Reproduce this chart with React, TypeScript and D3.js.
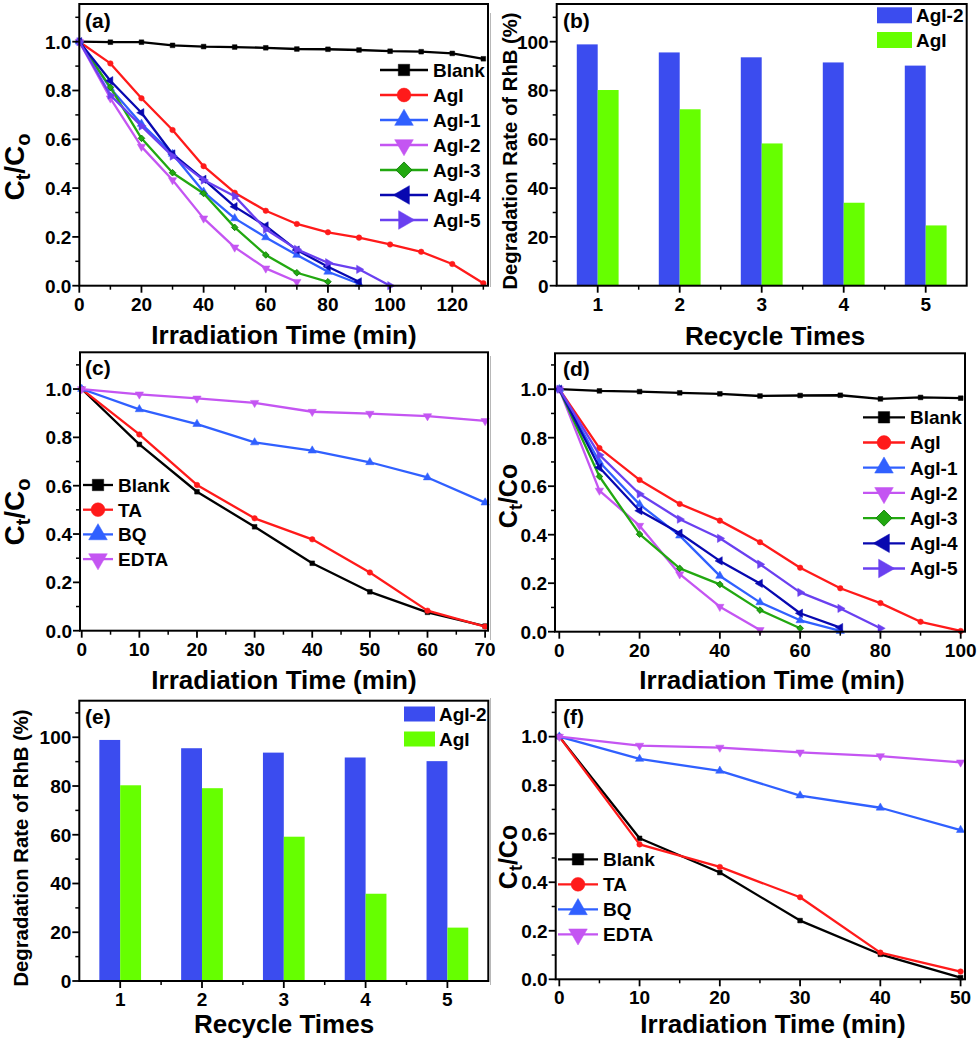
import React from "react";
import * as d3 from "d3";

const FONT = "'Liberation Sans', Arial, Helvetica, sans-serif";

// ---------- Panel (a) ----------
const timeA = [0, 10, 20, 30, 40, 50, 60, 70, 80, 90, 100, 110, 120, 130];
const aBlank = [1.0, 0.998, 0.998, 0.985, 0.98, 0.978, 0.975, 0.97, 0.969, 0.966, 0.961, 0.959, 0.952, 0.93];
const aAgI = [1.0, 0.911, 0.768, 0.638, 0.49, 0.381, 0.307, 0.253, 0.219, 0.197, 0.169, 0.139, 0.089, 0.01];
const aAgI1 = [1.0, 0.809, 0.663, 0.54, 0.385, 0.276, 0.198, 0.126, 0.057, 0.008];
const aAgI2 = [1.0, 0.768, 0.57, 0.433, 0.276, 0.157, 0.071, 0.016];
const aAgI3 = [1.0, 0.813, 0.604, 0.463, 0.378, 0.239, 0.126, 0.053, 0.016];
const aAgI4 = [1.0, 0.84, 0.709, 0.54, 0.436, 0.324, 0.245, 0.146, 0.078, 0.016];
const aAgI5 = [1.0, 0.781, 0.654, 0.531, 0.433, 0.367, 0.231, 0.149, 0.094, 0.067, 0.0];

// ---------- Panel (b) ----------
const recycle = [1, 2, 3, 4, 5];
const bAgI2 = [98.9, 95.6, 93.6, 91.5, 90.2];
const bAgI = [80.2, 72.3, 58.3, 34.0, 24.7];

// ---------- Panel (c) ----------
const timeC = [0, 10, 20, 30, 40, 50, 60, 70];
const cBlank = [1.0, 0.771, 0.575, 0.43, 0.279, 0.161, 0.076, 0.019];
const cTA = [1.0, 0.812, 0.603, 0.465, 0.378, 0.241, 0.083, 0.017];
const cBQ = [1.0, 0.916, 0.855, 0.779, 0.745, 0.697, 0.634, 0.53];
const cEDTA = [1.0, 0.978, 0.961, 0.943, 0.906, 0.898, 0.888, 0.868];

// ---------- Panel (d) ----------
const timeD = [0, 10, 20, 30, 40, 50, 60, 70, 80, 90, 100];
const dBlank = [1.0, 0.993, 0.99, 0.985, 0.981, 0.972, 0.974, 0.975, 0.96, 0.966, 0.963];
const dAgI = [1.0, 0.757, 0.626, 0.527, 0.458, 0.369, 0.264, 0.179, 0.118, 0.041, 0.003];
const dAgI1 = [1.0, 0.7, 0.525, 0.396, 0.23, 0.121, 0.047, 0.003];
const dAgI2 = [1.0, 0.582, 0.437, 0.237, 0.103, 0.007];
const dAgI3 = [1.0, 0.64, 0.402, 0.261, 0.195, 0.089, 0.014];
const dAgI4 = [1.0, 0.677, 0.499, 0.406, 0.292, 0.199, 0.076, 0.017];
const dAgI5 = [1.0, 0.729, 0.568, 0.464, 0.385, 0.278, 0.162, 0.096, 0.014];

// ---------- Panel (e) ----------
const eAgI2 = [98.9, 95.5, 93.7, 91.7, 90.2];
const eAgI = [80.3, 79.1, 59.2, 35.8, 21.9];

// ---------- Panel (f) ----------
const timeF = [0, 10, 20, 30, 40, 50];
const fBlank = [1.0, 0.581, 0.44, 0.242, 0.103, 0.007];
const fTA = [1.0, 0.556, 0.463, 0.338, 0.11, 0.032];
const fBQ = [1.0, 0.908, 0.859, 0.757, 0.707, 0.615];
const fEDTA = [1.0, 0.963, 0.955, 0.935, 0.92, 0.894];

const sampleNames = ["Blank", "AgI", "AgI-1", "AgI-2", "AgI-3", "AgI-4", "AgI-5"];
const scavNames = ["Blank", "TA", "BQ", "EDTA"];
const barNames = ["AgI-2", "AgI"];

const C = {
  black: "#000000",
  red: "#ff1a1a",
  blue: "#3060ff",
  violet: "#c455f2",
  green: "#22a810",
  navy: "#0808b0",
  purple: "#6a40f0",
  barBlue: "#3b4cef",
  barGreen: "#66ff00",
};

const sampleStyles = [
  { color: C.black, shape: "square" },
  { color: C.red, shape: "circle" },
  { color: C.blue, shape: "up" },
  { color: C.violet, shape: "down" },
  { color: C.green, shape: "diamond" },
  { color: C.navy, shape: "left" },
  { color: C.purple, shape: "right" },
];
const scavStyles = [
  { color: C.black, shape: "square" },
  { color: C.red, shape: "circle" },
  { color: C.blue, shape: "up" },
  { color: C.violet, shape: "down" },
];

function symbolPath(shape: string, size: number): string {
  let t: any = d3.symbolTriangle;
  if (shape === "square" || shape === "diamond") t = d3.symbolSquare;
  else if (shape === "circle") t = d3.symbolCircle;
  return d3.symbol().type(t).size(size)() as string;
}
const rotOf: Record<string, number> = { square: 0, circle: 0, up: 0, down: 180, left: -90, right: 90, diamond: 45 };

function Marker({ x, y, shape, color, size }: any) {
  return (
    <path
      d={symbolPath(shape, size)}
      transform={`translate(${x},${y}) rotate(${rotOf[shape]})`}
      fill={color}
      stroke={shape === "diamond" ? "#0d7a06" : color}
      strokeWidth={shape === "diamond" ? 0.8 : 0.5}
    />
  );
}

function range(a: number, b: number, s: number) {
  return d3.range(a, b + s / 2, s);
}

function Axes({ x, y, box, xMajor, xMinor, yMajor, yMinor, xFmt, yFmt }: any) {
  const { l, r, t, b } = box;
  return (
    <g fontFamily={FONT} fontWeight="bold" fontSize={19}>
      {yMajor.map((v: number) => (
        <g key={"ym" + v}>
          <line x1={l - 7} x2={l} y1={y(v)} y2={y(v)} stroke="#000" strokeWidth={1.8} />
          <text x={l - 8} y={y(v)} dy="0.36em" textAnchor="end">
            {yFmt(v)}
          </text>
        </g>
      ))}
      {yMinor.map((v: number) => (
        <line key={"yn" + v} x1={l - 4} x2={l} y1={y(v)} y2={y(v)} stroke="#000" strokeWidth={1.5} />
      ))}
      {xMajor.map((v: number) => (
        <g key={"xm" + v}>
          <line x1={x(v)} x2={x(v)} y1={b} y2={b + 7} stroke="#000" strokeWidth={1.8} />
          <text x={x(v)} y={b + 25} textAnchor="middle">
            {xFmt(v)}
          </text>
        </g>
      ))}
      {xMinor.map((v: number) => (
        <line key={"xn" + v} x1={x(v)} x2={x(v)} y1={b} y2={b + 4} stroke="#000" strokeWidth={1.5} />
      ))}
      <rect x={l} y={t} width={r - l} height={b - t} fill="none" stroke="#000" strokeWidth={2} />
    </g>
  );
}

function CtCo({ x, y, size, bothSub }: any) {
  const sub = Math.round(size * 0.72);
  const sh = Math.round(size * 0.2);
  return (
    <text
      transform={`translate(${x},${y}) rotate(-90)`}
      textAnchor="middle"
      fontFamily={FONT}
      fontWeight="bold"
      fontSize={size}
    >
      C
      <tspan fontSize={sub} dy={sh}>
        t
      </tspan>
      <tspan dy={-sh}>/C</tspan>
      {bothSub ? (
        <tspan fontSize={sub} dy={sh}>
          o
        </tspan>
      ) : (
        <tspan>o</tspan>
      )}
    </text>
  );
}

function LinePanel({ cfg }: any) {
  const { box, xDom, yDom } = cfg;
  const x = d3.scaleLinear().domain(xDom).range([box.l, box.r]);
  const y = d3.scaleLinear().domain(yDom).range([box.b, box.t]);
  const line = d3
    .line<[number, number]>()
    .x((d) => x(d[0]))
    .y((d) => y(d[1]));
  const lg = cfg.legend;
  return (
    <g>
      {cfg.series.map((s: any, i: number) => {
        const pts: [number, number][] = s.ys.map((v: number, j: number) => [s.xs[j], v]);
        return (
          <g key={"s" + i}>
            <path d={line(pts) as string} fill="none" stroke={s.color} strokeWidth={2.3} strokeLinejoin="round" />
            {pts.map((p, j) => (
              <Marker key={j} x={x(p[0])} y={y(p[1])} shape={s.shape} color={s.color} size={s.shape === "circle" ? 24 : s.shape === "square" || s.shape === "diamond" ? 22 : 30} />
            ))}
          </g>
        );
      })}
      <Axes
        x={x}
        y={y}
        box={box}
        xMajor={cfg.xMajor}
        xMinor={cfg.xMinor}
        yMajor={cfg.yMajor}
        yMinor={cfg.yMinor}
        xFmt={(v: number) => d3.format("d")(v)}
        yFmt={(v: number) => d3.format(".1f")(v)}
      />
      <g fontFamily={FONT} fontWeight="bold" fontSize={19}>
        {cfg.series.map((s: any, i: number) => {
          const yy = lg.y0 + lg.dy * i;
          return (
            <g key={"l" + i}>
              <line x1={lg.x0} x2={lg.x1} y1={yy} y2={yy} stroke={s.color} strokeWidth={2.3} />
              <Marker x={lg.mx} y={yy} shape={s.shape} color={s.color} size={s.shape === "circle" ? 150 : s.shape === "square" || s.shape === "diamond" ? 130 : 150} />
              <text x={lg.tx} y={yy} dy="0.36em">
                {s.name}
              </text>
            </g>
          );
        })}
      </g>
      <text x={cfg.label.x} y={cfg.label.y} fontFamily={FONT} fontWeight="bold" fontSize={21}>
        {cfg.label.text}
      </text>
      <text x={cfg.xTitle.x} y={cfg.xTitle.y} textAnchor="middle" fontFamily={FONT} fontWeight="bold" fontSize={26}>
        Irradiation Time (min)
      </text>
      <CtCo x={cfg.yTitle.x} y={cfg.yTitle.y} size={cfg.yTitle.size} bothSub={cfg.yTitle.bothSub} />
    </g>
  );
}

function BarPanel({ cfg }: any) {
  const { box } = cfg;
  const x = d3.scaleLinear().domain([0.5, 5.5]).range([box.l, box.r]);
  const y = d3.scaleLinear().domain([0, cfg.yMax]).range([box.b, box.t]);
  const bw = 0.255;
  const lg = cfg.legend;
  const colors = [C.barBlue, C.barGreen];
  const vals = [cfg.v1, cfg.v2];
  return (
    <g>
      {vals.map((arr: number[], k: number) =>
        arr.map((v, i) => {
          const x0 = k === 0 ? x(recycle[i] - bw) : x(recycle[i]);
          const x1 = k === 0 ? x(recycle[i]) : x(recycle[i] + bw);
          return <rect key={k + "-" + i} x={x0} y={y(v)} width={x1 - x0} height={y(0) - y(v)} fill={colors[k]} />;
        })
      )}
      <Axes
        x={x}
        y={y}
        box={box}
        xMajor={recycle}
        xMinor={[1.5, 2.5, 3.5, 4.5]}
        yMajor={range(0, 100, 20)}
        yMinor={range(10, 110, 20)}
        xFmt={(v: number) => String(v)}
        yFmt={(v: number) => String(v)}
      />
      <g fontFamily={FONT} fontWeight="bold" fontSize={19}>
        {barNames.map((n, i) => {
          const yy = lg.y0 + lg.dy * i;
          return (
            <g key={n}>
              <rect x={lg.x0} y={yy - lg.h / 2} width={lg.w} height={lg.h} fill={colors[i]} />
              <text x={lg.tx} y={yy} dy="0.36em">
                {n}
              </text>
            </g>
          );
        })}
      </g>
      <text x={cfg.label.x} y={cfg.label.y} fontFamily={FONT} fontWeight="bold" fontSize={21}>
        {cfg.label.text}
      </text>
      <text x={cfg.xTitle.x} y={cfg.xTitle.y} textAnchor="middle" fontFamily={FONT} fontWeight="bold" fontSize={26}>
        Recycle Times
      </text>
      <text
        transform={`translate(${cfg.yTitle.x},${cfg.yTitle.y}) rotate(-90)`}
        textAnchor="middle"
        fontFamily={FONT}
        fontWeight="bold"
        fontSize={20.3}
      >
        Degradation Rate of RhB (%)
      </text>
    </g>
  );
}

function mk(names: string[], styles: any[], xs: number[], data: number[][]) {
  return data.map((ys, i) => ({ name: names[i], color: styles[i].color, shape: styles[i].shape, xs, ys }));
}

const panelA = {
  box: { l: 79.3, r: 488, t: 4, b: 285.7 },
  xDom: [0, 131.5],
  yDom: [0, 1.1545],
  xMajor: range(0, 120, 20),
  xMinor: range(10, 130, 20),
  yMajor: range(0, 1.0, 0.2),
  yMinor: range(0.1, 1.1, 0.2),
  series: mk(sampleNames, sampleStyles, timeA, [aBlank, aAgI, aAgI1, aAgI2, aAgI3, aAgI4, aAgI5]),
  legend: { x0: 380, x1: 428, mx: 404, tx: 433, y0: 70, dy: 25 },
  label: { text: "(a)", x: 85, y: 28 },
  xTitle: { x: 284, y: 344 },
  yTitle: { x: 23.5, y: 167, size: 28, bothSub: true },
};

const panelC = {
  box: { l: 80, r: 488, t: 352.3, b: 630.7 },
  xDom: [-0.3, 70.5],
  yDom: [0, 1.152],
  xMajor: range(0, 70, 10),
  xMinor: range(5, 65, 10),
  yMajor: range(0, 1.0, 0.2),
  yMinor: range(0.1, 1.1, 0.2),
  series: mk(scavNames, scavStyles, timeC, [cBlank, cTA, cBQ, cEDTA]),
  legend: { x0: 83, x1: 113, mx: 98, tx: 118, y0: 485, dy: 24.7 },
  label: { text: "(c)", x: 85, y: 375 },
  xTitle: { x: 284, y: 689 },
  yTitle: { x: 23.5, y: 512, size: 28, bothSub: true },
};

const panelD = {
  box: { l: 555, r: 965, t: 353.3, b: 631.7 },
  xDom: [-1.07, 101.07],
  yDom: [0, 1.148],
  xMajor: range(0, 100, 20),
  xMinor: range(10, 90, 20),
  yMajor: range(0, 1.0, 0.2),
  yMinor: range(0.1, 1.1, 0.2),
  series: mk(sampleNames, sampleStyles, timeD, [dBlank, dAgI, dAgI1, dAgI2, dAgI3, dAgI4, dAgI5]),
  legend: { x0: 863, x1: 905, mx: 884, tx: 910, y0: 417.3, dy: 25.2 },
  label: { text: "(d)", x: 563, y: 376 },
  xTitle: { x: 772, y: 689 },
  yTitle: { x: 517, y: 496, size: 25, bothSub: false },
};

const panelF = {
  box: { l: 555.7, r: 965, t: 700, b: 979.3 },
  xDom: [-0.45, 50.55],
  yDom: [0, 1.151],
  xMajor: range(0, 50, 10),
  xMinor: range(5, 45, 10),
  yMajor: range(0, 1.0, 0.2),
  yMinor: range(0.1, 1.1, 0.2),
  series: mk(scavNames, scavStyles, timeF, [fBlank, fTA, fBQ, fEDTA]),
  legend: { x0: 558, x1: 598, mx: 578, tx: 603, y0: 859.3, dy: 25 },
  label: { text: "(f)", x: 563, y: 724 },
  xTitle: { x: 773, y: 1033 },
  yTitle: { x: 517, y: 857, size: 25, bothSub: false },
};

const panelB = {
  box: { l: 556.7, r: 966.7, t: 4, b: 285.7 },
  yMax: 115.45,
  v1: bAgI2,
  v2: bAgI,
  legend: { x0: 877, w: 35, h: 16, tx: 916, y0: 15.3, dy: 24.7 },
  label: { text: "(b)", x: 563, y: 28 },
  xTitle: { x: 775, y: 345 },
  yTitle: { x: 517, y: 151 },
};

const panelE = {
  box: { l: 79.3, r: 488.3, t: 700.7, b: 981 },
  yMax: 115.0,
  v1: eAgI2,
  v2: eAgI,
  legend: { x0: 404, w: 31, h: 15, tx: 439, y0: 714, dy: 25 },
  label: { text: "(e)", x: 85, y: 724 },
  xTitle: { x: 284, y: 1033 },
  yTitle: { x: 27.5, y: 848 },
};

export default function App() {
  return (
    <svg
      width={980}
      height={1043}
      viewBox="0 0 980 1043"
      style={{ position: "absolute", left: 0, top: 0, background: "#fff" }}
    >
      <rect x={0} y={0} width={980} height={1043} fill="#fff" />
      <g stroke="#b8b8b8" strokeWidth={1}>
        <line x1={490.5} x2={490.5} y1={13} y2={287} />
        <line x1={490.5} x2={490.5} y1={356} y2={640} />
        <line x1={490.5} x2={490.5} y1={698} y2={985} />
      </g>
      <LinePanel cfg={panelA} />
      <BarPanel cfg={panelB} />
      <LinePanel cfg={panelC} />
      <LinePanel cfg={panelD} />
      <BarPanel cfg={panelE} />
      <LinePanel cfg={panelF} />
    </svg>
  );
}
